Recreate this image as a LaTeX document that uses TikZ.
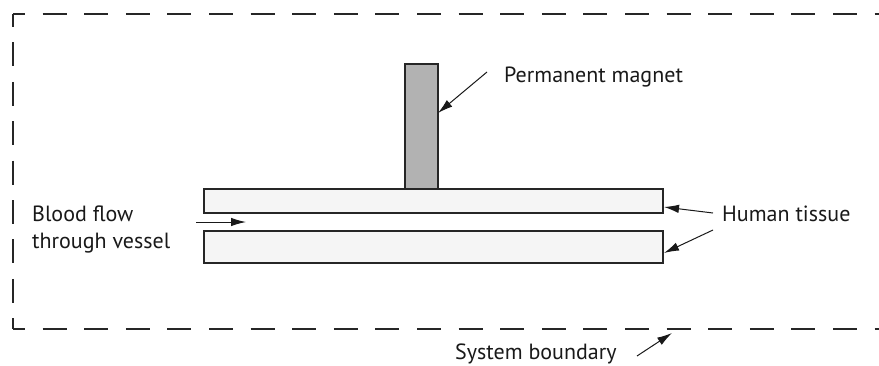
\documentclass[tikz,border=0pt]{standalone}
\usepackage{fontspec}
\setmainfont{PT Sans}
\usetikzlibrary{arrows.meta}
\begin{document}
\begin{tikzpicture}[x=1pt,y=-1pt,
  lbl/.style={inner sep=0pt, font=\fontsize{22}{26}\selectfont, text=black!90},
  arr/.style={-{Latex[length=15pt,width=8.5pt]}, line width=1pt, draw=black!90},
  tissue/.style={draw=black!85, fill=black!4, line width=1.1pt, inner sep=0pt, minimum width=459pt},
  magnetbox/.style={draw=black!85, fill=black!30, line width=1.1pt, inner sep=0pt, minimum width=33pt, minimum height=125pt},
  bound/.style={line width=1.2pt, draw=black!85}]
\useasboundingbox (0,0) rectangle (879,365);
% system boundary
\coordinate (c1) at (13,14);
\coordinate (c2) at (13,329);
\coordinate (tr) at (879,14);
\coordinate (br) at (879,329);
\draw[bound, dash pattern=on 24pt off 17.6pt, dash phase=12pt] (c1) -- (tr);
\draw[bound, dash pattern=on 24pt off 17.6pt, dash phase=12pt] (c2) -- (br);
\draw[bound, dash pattern=on 24pt off 15.4pt, dash phase=11pt] (c1) -- (c2);
% magnet and tissue
\node[magnetbox] (magnet) at (421.5,126.5) {};
\node[tissue, minimum height=24pt] (upper) at (433.5,201) {};
\node[tissue, minimum height=32pt] (lower) at (433.5,247) {};
% labels
\node[lbl, anchor=base west] (pm) at (504,82) {Permanent magnet};
\node[lbl, anchor=base west] (ht) at (722,221) {Human tissue};
\node[lbl, anchor=base west] (bf1) at (32,221) {Blood flow};
\node[lbl, anchor=base west] (bf2) at (32,248) {through vessel};
\node[lbl, anchor=base west] (sb) at (455,359) {System boundary};
% connectors
\coordinate (pmtail) at (487,72);
\coordinate (pmtip) at (438,113);
\draw[arr] (pmtail) -- (pmtip);
\coordinate (httail1) at (713,213);
\coordinate (httip1) at (664,207);
\draw[arr] (httail1) -- (httip1);
\coordinate (httail2) at (713,230);
\coordinate (httip2) at (664,253);
\draw[arr] (httail2) -- (httip2);
\coordinate (flowtail) at (196,222);
\coordinate (flowtip) at (246,222);
\draw[arr] (flowtail) -- (flowtip);
\coordinate (sbtail) at (637,356);
\coordinate (sbtip) at (672,333);
\draw[arr] (sbtail) -- (sbtip);
\end{tikzpicture}
\end{document}
